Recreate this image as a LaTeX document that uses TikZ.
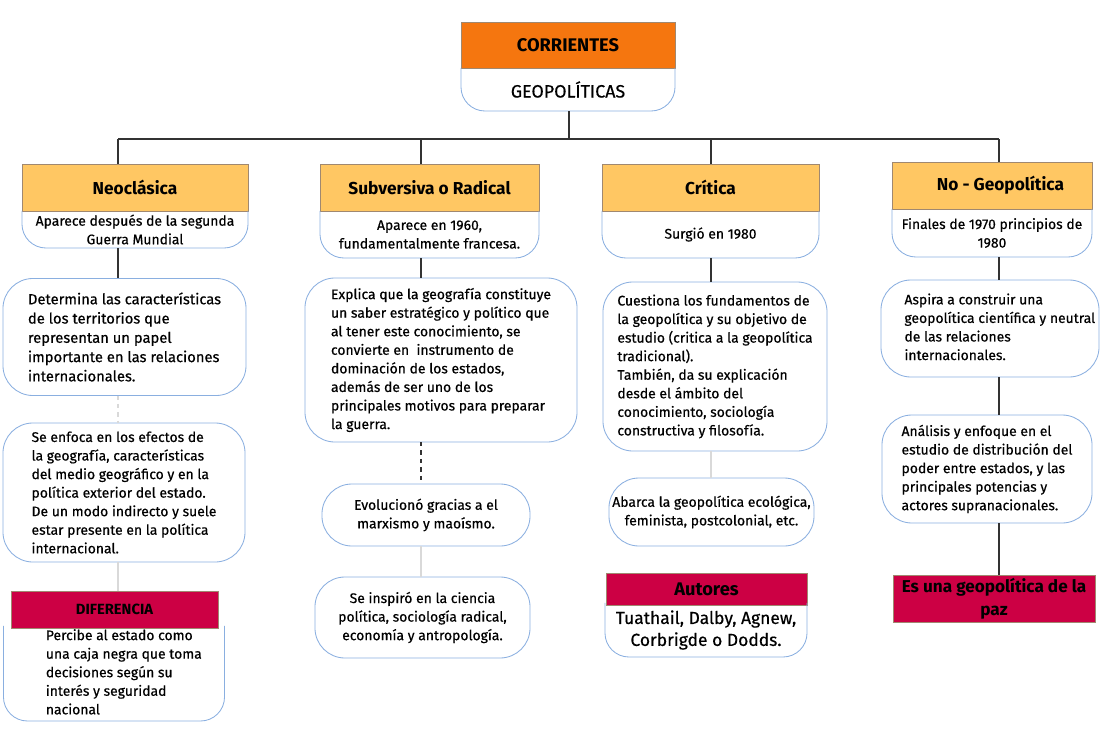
\documentclass[tikz,border=0pt]{standalone}
\usepackage{fontspec}
\setmainfont{Fira Sans}[UprightFeatures={FakeBold=0.5}]
\definecolor{hdorange}{HTML}{F5760F}
\definecolor{hdyellow}{HTML}{FFC763}
\definecolor{hdcrimson}{HTML}{CC0044}
\definecolor{hdline}{HTML}{A08870}
\definecolor{bubline}{HTML}{8AAFE0}
\definecolor{lnk}{HTML}{333333}
\tikzset{
  head/.style = {draw=hdline, line width=0.4pt, fill=hdyellow, inner sep=0pt, outer sep=0pt, font=\bfseries\fontsize{12.3}{14}\selectfont},
  body/.style = {inner sep=0pt, outer sep=0pt, align=center, font=\fontsize{9.9}{13.2}\selectfont},
  bubble/.style = {draw=bubline, line width=0.6pt, rounded corners=0.75cm, fill=white, inner sep=0pt, outer sep=0pt, align=left, font=\fontsize{9.9}{13.2}\selectfont},
  bodyline/.style = {draw=bubline, line width=0.6pt, rounded corners=0.6cm},
  link/.style = {draw=lnk, line width=1.1pt},
  faint/.style = {draw=gray!30, line width=1pt}
}
\begin{document}
\begin{tikzpicture}[x=0.025cm, y=-0.025cm]
    \useasboundingbox (0,0) rectangle (1100,750);

    % root
    \node[body, minimum width=5.35cm, minimum height=1.075cm, font=\fontsize{12.7}{14}\selectfont] (cab-b) at (568,89.5) {GEOPOLÍTICAS};
    \node[head, fill=hdorange, minimum width=5.35cm, minimum height=1.15cm, font=\bfseries\fontsize{13}{14}\selectfont] (cab-h) at (568,45) {CORRIENTES};

    % column heads
    \node[body, minimum width=5.65cm, minimum height=0.925cm] (neo-b) at (135,229.5) {Aparece después de la segunda\\Guerra Mundial};
    \node[head, minimum width=5.65cm, minimum height=1.175cm] (neo-h) at (135,187.5) {Neoclásica};
    \node[body, minimum width=5.475cm, minimum height=1.175cm] (sub-b) at (429.5,234.5) {Aparece en 1960,\\fundamentalmente francesa.};
    \node[head, minimum width=5.475cm, minimum height=1.175cm] (sub-h) at (429.5,187.5) {Subversiva o Radical};
    \node[body, minimum width=5.425cm, minimum height=1.175cm] (cri-b) at (710.5,234.5) {Surgió en 1980};
    \node[head, minimum width=5.425cm, minimum height=1.175cm] (cri-h) at (710.5,187.5) {Crítica};
    \node[body, minimum width=5cm, minimum height=1.2cm] (nog-b) at (992,233) {Finales de 1970 principios de\\1980};
    \node[head, minimum width=5cm, minimum height=1.175cm] (nog-h) at (992,185.5) {\hspace{12pt}No - Geopolítica};

    % Neoclásica
    \node[bubble, minimum width=6.075cm, minimum height=2.925cm, font=\fontsize{10.5}{13.7}\selectfont] (det) at (124.5,337) {Determina las características\\de los territorios que\\representan un papel\\importante en las relaciones\\internacionales.};
    \node[bubble, minimum width=6.05cm, minimum height=3.475cm] (efe) at (124,492.5) {Se enfoca en los efectos de\\la geografía, características\\del medio geográfico y en la\\política exterior del estado.\\De un modo indirecto y suele\\estar presente en la política\\internacional.};
    \node[body, align=none, minimum width=5.525cm, minimum height=2.375cm] (dif-b) at (114,673.5) {\hspace{14pt}\begin{tabular}{@{}l@{}}Percibe al estado como\\una caja negra que toma\\decisiones según su\\interés y seguridad\\nacional\end{tabular}};
    \node[head, fill=hdcrimson, minimum width=5.175cm, minimum height=0.925cm, font=\bfseries\fontsize{10.5}{12}\selectfont] (dif-h) at (114.5,609.5) {DIFERENCIA};

    % Subversiva o Radical
    \node[bubble, minimum width=6.8cm, minimum height=4.1cm] (exp) at (441,360) {Explica que la geografía constituye\\un saber estratégico y político que\\al tener este conocimiento, se\\convierte en \ instrumento de\\dominación de los estados,\\además de ser uno de los\\principales motivos para preparar\\la guerra.};
    \node[bubble, align=center, minimum width=5.2cm, minimum height=1.55cm] (evo) at (426,515) {Evolucionó gracias a el\\marxismo y maoísmo.};
    \node[bubble, align=center, minimum width=5.375cm, minimum height=2.025cm] (ins) at (422.5,617.5) {Se inspiró en la ciencia\\política, sociología radical,\\economía y antropología.};

    % Crítica
    \node[bubble, minimum width=5.6cm, minimum height=4.225cm] (cue) at (715,366.5) {Cuestiona los fundamentos de\\la geopolítica y su objetivo de\\estudio (critica a la geopolítica\\tradicional).\\También, da su explicación\\desde el ámbito del\\conocimiento, sociología\\constructiva y filosofía.};
    \node[bubble, align=center, minimum width=5.125cm, minimum height=1.7cm] (aba) at (711.5,512) {Abarca la geopolítica ecológica,\\feminista, postcolonial, etc.};
    \node[body, minimum width=5.05cm, minimum height=1.35cm, font=\fontsize{12.4}{15.6}\selectfont] (aut-b) at (706,630) {Tuathail, Dalby, Agnew,\\Corbrigde o Dodds.};
    \node[head, fill=hdcrimson, minimum width=5.025cm, minimum height=0.8cm, font=\bfseries\fontsize{13}{14}\selectfont] (aut-h) at (706.5,589) {Autores};

    % No - Geopolítica
    \node[bubble, align=none, minimum width=5.45cm, minimum height=2.425cm] (asp) at (990,328.5) {\hspace{14pt}\begin{tabular}{@{}l@{}}Aspira a construir una\\geopolítica científica y neutral\\de las relaciones\\internacionales.\end{tabular}};
    \node[bubble, minimum width=5.25cm, minimum height=2.7cm] (ana) at (987,469) {Análisis y enfoque en el\\estudio de distribución del\\poder entre estados, y las\\principales potencias y\\actores supranacionales.};
    \node[head, fill=hdcrimson, align=center, minimum width=5.05cm, minimum height=1.175cm, font=\bfseries\fontsize{12.2}{16}\selectfont] (paz) at (994,598.5) {Es una geopolítica de la\\paz};

    % outlines under the heads
    \foreach \b in {cab-b,neo-b,sub-b,cri-b,nog-b,dif-b,aut-b}
        \draw[bodyline] (\b.north west) -- (\b.south west) -- (\b.south east) -- (\b.north east);

    % bus
    \coordinate (bus) at (569,139);
    \coordinate (c1) at (118,139);
    \coordinate (c2) at (421,139);
    \coordinate (c3) at (711,139);
    \coordinate (c4) at (999,139);
    \draw[link] (cab-b.south -| bus) -- (bus);
    \draw[link] (c1) -- (c4);
    \foreach \c/\h in {c1/neo-h,c2/sub-h,c3/cri-h,c4/nog-h}
        \draw[link] (\c) -- (\c |- \h.north);

    % column links
    \draw[link] (neo-b.south -| c1) -- (det.north -| c1);
    \draw[faint, dashed] (det.south -| c1) -- (efe.north -| c1);
    \draw[faint] (efe.south -| c1) -- (dif-h.north -| c1);
    \draw[link] (sub-b.south -| c2) -- (exp.north -| c2);
    \draw[link, dashed] (exp.south -| c2) -- (evo.north -| c2);
    \draw[faint] (evo.south -| c2) -- (ins.north -| c2);
    \draw[link] (cri-b.south -| c3) -- (cue.north -| c3);
    \draw[faint] (cue.south -| c3) -- (aba.north -| c3);
    \draw[link] (nog-b.south -| c4) -- (asp.north -| c4);
    \draw[link] (asp.south -| c4) -- (ana.north -| c4);
    \draw[link] (ana.south -| c4) -- (paz.north -| c4);

\end{tikzpicture}
\end{document}
